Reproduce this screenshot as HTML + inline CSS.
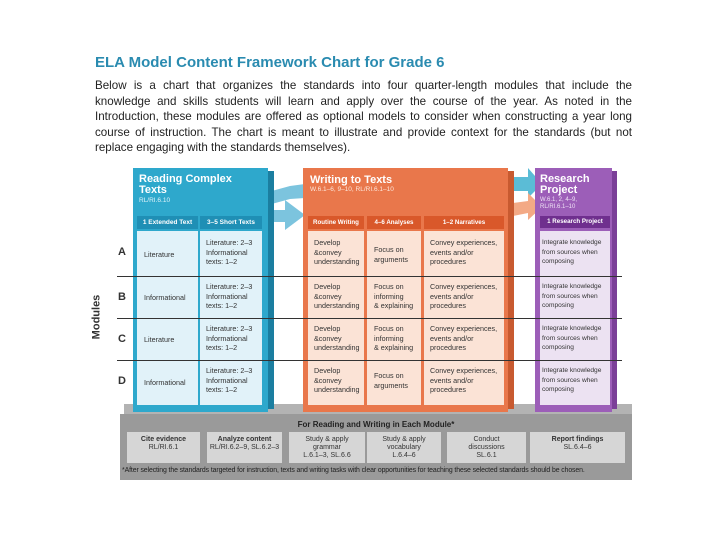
<!DOCTYPE html>
<html><head><meta charset="utf-8"><style>
*{margin:0;padding:0;box-sizing:border-box}
body{width:720px;height:540px;background:#fff;position:relative;overflow:hidden;font-family:"Liberation Sans",sans-serif}
.a{position:absolute}
.t{font-size:7.2px;line-height:9.5px;color:#333}
.h{font-weight:bold;color:#fff}
.line{position:absolute;left:117px;width:505px;height:1px;background:#333}
.gb{position:absolute;background:#d6d6d6;top:432px;height:31px;text-align:center;font-size:7px;line-height:8px;color:#333;padding-top:4px}
</style></head><body>
<div class="a" style="left:95px;top:54px;font-size:15px;font-weight:bold;color:#2a8bb0">ELA Model Content Framework Chart for Grade 6</div>
<div class="a" style="left:95px;top:78px;width:537px;font-size:11.6px;line-height:15.5px;color:#222;text-align:justify">Below is a chart that organizes the standards into four quarter-length modules that include the knowledge and skills students will learn and apply over the course of the year. As noted in the Introduction, these modules are offered as optional models to consider when constructing a year long course of instruction. The chart is meant to illustrate and provide context for the standards (but not replace engaging with the standards themselves).</div>

<!-- gray base -->
<div class="a" style="left:124px;top:404px;width:508px;height:16px;background:#b3b3b3"></div>
<div class="a" style="left:120px;top:414px;width:512px;height:66px;background:#9a9a9a"></div>
<div class="a" style="left:120px;top:420px;width:512px;text-align:center;font-size:8px;font-weight:bold;color:#222">For Reading and Writing in Each Module*</div>
<div class="gb" style="left:127px;width:73px"><b>Cite evidence</b><br>RL/RI.6.1</div>
<div class="gb" style="left:207px;width:75px"><b>Analyze content</b><br>RL/RI.6.2–9, SL.6.2–3</div>
<div class="gb" style="left:289px;width:76px">Study &amp; apply<br>grammar<br>L.6.1–3, SL.6.6</div>
<div class="gb" style="left:367px;width:74px">Study &amp; apply<br>vocabulary<br>L.6.4–6</div>
<div class="gb" style="left:447px;width:79px">Conduct<br>discussions<br>SL.6.1</div>
<div class="gb" style="left:530px;width:95px"><b>Report findings</b><br>SL.6.4–6</div>
<div class="a" style="left:122px;top:467px;font-size:6.9px;color:#222;white-space:nowrap;letter-spacing:-0.1px">*After selecting the standards targeted for instruction, texts and writing tasks with clear opportunities for teaching these selected standards should be chosen.</div>

<!-- arrows -->
<svg class="a" style="left:0;top:0" width="720" height="540">
<path d="M268 192 L290 186 L305 184 L305 198 L290 199 L268 205Z" fill="#7cc4de"/>
<path d="M268 210 L285 210 L285 200 L305 215 L285 230 L285 222 L268 222Z" fill="#7cc4de"/>
<path d="M513 177 L528 177 L528 168 L542 184 L528 198 L528 191 L513 191Z" fill="#5bbcd6"/>
<path d="M513 203 L528 201 L528 193 L542 207 L528 220 L528 213 L513 216Z" fill="#f3a985"/>
</svg>

<!-- blue box -->
<div class="a" style="left:133px;top:168px;width:135px;height:244px;background:#2ea8cc"></div>
<div class="a" style="left:268px;top:171px;width:6px;height:238px;background:#1b7ea0"></div>
<div class="a h" style="left:139px;top:174px;font-size:11px;line-height:10.5px">Reading Complex<br>Texts</div>
<div class="a" style="left:139px;top:197px;font-size:6.5px;color:#e0f3fa">RL/RI.6.10</div>
<div class="a h" style="left:137px;top:216px;width:61px;height:13px;background:#1f8fb5;font-size:6.5px;line-height:13px;text-align:center">1 Extended Text</div>
<div class="a h" style="left:200px;top:216px;width:62px;height:13px;background:#1f8fb5;font-size:6.5px;line-height:13px;text-align:center">3–5 Short Texts</div>
<div class="a" style="left:137px;top:231px;width:61px;height:174px;background:#e1f2f9"></div>
<div class="a" style="left:200px;top:231px;width:62px;height:174px;background:#e1f2f9"></div>

<!-- orange box -->
<div class="a" style="left:303px;top:168px;width:205px;height:244px;background:#e9774b"></div>
<div class="a" style="left:508px;top:171px;width:6px;height:238px;background:#c85a30"></div>
<div class="a h" style="left:310px;top:174px;font-size:11px">Writing to Texts</div>
<div class="a" style="left:310px;top:186px;font-size:6.5px;color:#fde5d9">W.6.1–6, 9–10, RL/RI.6.1–10</div>
<div class="a h" style="left:308px;top:216px;width:56px;height:13px;background:#d9582a;font-size:6.2px;line-height:13px;text-align:center">Routine Writing</div>
<div class="a h" style="left:367px;top:216px;width:54px;height:13px;background:#d9582a;font-size:6.2px;line-height:13px;text-align:center">4–6 Analyses</div>
<div class="a h" style="left:424px;top:216px;width:80px;height:13px;background:#d9582a;font-size:6.2px;line-height:13px;text-align:center">1–2 Narratives</div>
<div class="a" style="left:308px;top:231px;width:56px;height:174px;background:#fbe3d6"></div>
<div class="a" style="left:367px;top:231px;width:54px;height:174px;background:#fbe3d6"></div>
<div class="a" style="left:424px;top:231px;width:80px;height:174px;background:#fbe3d6"></div>

<!-- purple box -->
<div class="a" style="left:535px;top:168px;width:77px;height:244px;background:#9c5eb8"></div>
<div class="a" style="left:612px;top:171px;width:5px;height:238px;background:#7b3f98"></div>
<div class="a h" style="left:540px;top:174px;font-size:11px;line-height:10.5px">Research<br>Project</div>
<div class="a" style="left:540px;top:197px;font-size:6px;line-height:7px;color:#efe2f5">W.6.1, 2, 4–9,<br>RL/RI.6.1–10</div>
<div class="a h" style="left:540px;top:216px;width:70px;height:12px;background:#6f2f8e;font-size:6.2px;line-height:12px;text-align:center">1 Research Project</div>
<div class="a" style="left:540px;top:231px;width:70px;height:174px;background:#ece2f2"></div>

<!-- row lines -->
<div class="line" style="top:276px"></div>
<div class="line" style="top:318px"></div>
<div class="line" style="top:360px"></div>
<div class="a" style="left:118px;top:246px;font-size:11px;font-weight:bold;color:#333">A</div>
<div class="a" style="left:118px;top:291px;font-size:11px;font-weight:bold;color:#333">B</div>
<div class="a" style="left:118px;top:333px;font-size:11px;font-weight:bold;color:#333">C</div>
<div class="a" style="left:118px;top:375px;font-size:11px;font-weight:bold;color:#333">D</div>
<div class="a" style="left:74px;top:311px;transform:rotate(-90deg);font-size:11px;font-weight:bold;color:#333">Modules</div>

<!-- cells -->
<div class="a t" style="left:144px;top:250px">Literature</div>
<div class="a t" style="left:144px;top:293px">Informational</div>
<div class="a t" style="left:144px;top:335px">Literature</div>
<div class="a t" style="left:144px;top:378px">Informational</div>
<div class="a t" style="left:206px;top:238px">Literature: 2–3<br>Informational<br>texts: 1–2</div>
<div class="a t" style="left:206px;top:282px">Literature: 2–3<br>Informational<br>texts: 1–2</div>
<div class="a t" style="left:206px;top:324px">Literature: 2–3<br>Informational<br>texts: 1–2</div>
<div class="a t" style="left:206px;top:366px">Literature: 2–3<br>Informational<br>texts: 1–2</div>

<div class="a t" style="left:314px;top:238px">Develop<br>&amp;convey<br>understanding</div>
<div class="a t" style="left:314px;top:282px">Develop<br>&amp;convey<br>understanding</div>
<div class="a t" style="left:314px;top:324px">Develop<br>&amp;convey<br>understanding</div>
<div class="a t" style="left:314px;top:366px">Develop<br>&amp;convey<br>understanding</div>
<div class="a t" style="left:374px;top:245px">Focus on<br>arguments</div>
<div class="a t" style="left:374px;top:282px">Focus on<br>informing<br>&amp; explaining</div>
<div class="a t" style="left:374px;top:324px">Focus on<br>informing<br>&amp; explaining</div>
<div class="a t" style="left:374px;top:371px">Focus on<br>arguments</div>
<div class="a t" style="left:430px;top:238px">Convey experiences,<br>events and/or<br>procedures</div>
<div class="a t" style="left:430px;top:282px">Convey experiences,<br>events and/or<br>procedures</div>
<div class="a t" style="left:430px;top:324px">Convey experiences,<br>events and/or<br>procedures</div>
<div class="a t" style="left:430px;top:366px">Convey experiences,<br>events and/or<br>procedures</div>
<div class="a t" style="left:542px;top:238px;font-size:6.6px">Integrate knowledge<br>from sources when<br>composing</div>
<div class="a t" style="left:542px;top:282px;font-size:6.6px">Integrate knowledge<br>from sources when<br>composing</div>
<div class="a t" style="left:542px;top:324px;font-size:6.6px">Integrate knowledge<br>from sources when<br>composing</div>
<div class="a t" style="left:542px;top:366px;font-size:6.6px">Integrate knowledge<br>from sources when<br>composing</div>
</body></html>
